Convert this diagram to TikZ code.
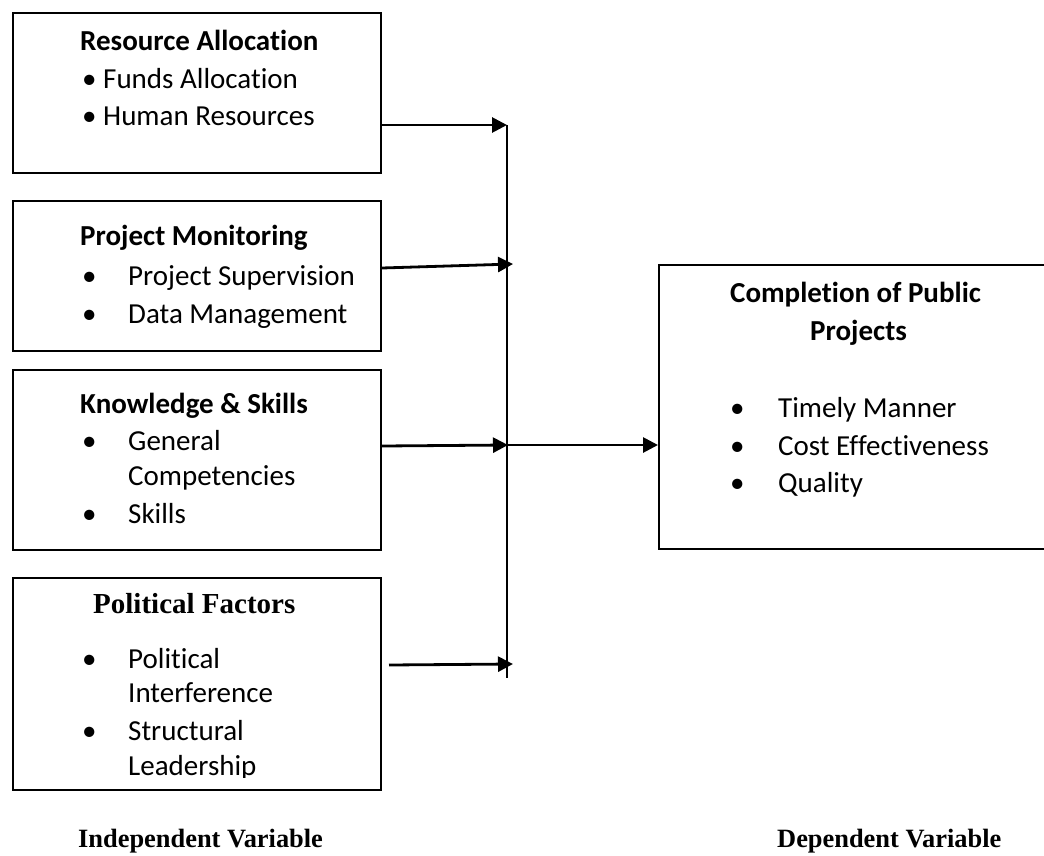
\documentclass[tikz,border=0pt]{standalone}
\usepackage{fontspec}
\setmainfont{Carlito}[Ligatures=CommonOff]
\newfontfamily\tnr{Liberation Serif}
\usetikzlibrary{arrows.meta}
\begin{document}
\begin{tikzpicture}[x=1pt,y=-1pt,
  box/.style={draw,line width=2pt,inner sep=0pt,anchor=north west},
  txt/.style={anchor=base west,inner sep=0pt,font=\fontsize{29}{37}\selectfont},
  hdr/.style={txt,font=\fontsize{29}{37}\selectfont\bfseries},
  thdr/.style={txt,font=\fontsize{29}{37}\selectfont\tnr\bfseries},
  lbl/.style={txt,font=\fontsize{26.4}{32}\selectfont\tnr\bfseries},
  link/.style={line width=2.8pt,-{Triangle[length=15pt,width=15pt]}},
  bar/.style={line width=1.2pt}]
\useasboundingbox (0,0) rectangle (1044,855);

% boxes of the independent variables
\node[box,minimum width=368pt,minimum height=160pt] (ra) at (12,12) {};
\node[box,minimum width=368pt,minimum height=150pt] (pm) at (12,200) {};
\node[box,minimum width=368pt,minimum height=180pt] (ks) at (12,369) {};
\node[box,minimum width=368pt,minimum height=212pt] (pf) at (12,577) {};
% box of the dependent variable
\node[box,minimum width=392pt,minimum height=284pt] (cp) at (658,264) {};

% Resource Allocation
\node[hdr] (raH) at (80,50) {Resource Allocation};
\node[txt] (raB1) at (82,88) {•};
\node[txt] (raT1) at (103,88) {Funds Allocation};
\node[txt] (raB2) at (82,125) {•};
\node[txt] (raT2) at (103,125) {Human Resources};

% Project Monitoring
\node[hdr] (pmH) at (80,245) {Project Monitoring};
\node[txt] (pmB1) at (82,285) {•};
\node[txt] (pmT1) at (128,285) {Project Supervision};
\node[txt] (pmB2) at (82,323) {•};
\node[txt] (pmT2) at (128,323) {Data Management};

% Knowledge & Skills
\node[hdr] (ksH) at (80,413) {Knowledge \& Skills};
\node[txt] (ksB1) at (82,450) {•};
\node[txt] (ksT1) at (128,450) {General};
\node[txt] (ksT1b) at (128,485) {Competencies};
\node[txt] (ksB2) at (82,523) {•};
\node[txt] (ksT2) at (128,523) {Skills};

% Political Factors
\node[thdr] (pfH) at (93,613) {Political Factors};
\node[txt] (pfB1) at (82,668) {•};
\node[txt] (pfT1) at (128,668) {Political};
\node[txt] (pfT1b) at (128,702) {Interference};
\node[txt] (pfB2) at (82,740) {•};
\node[txt] (pfT2) at (128,740) {Structural};
\begin{scope}
  \clip (20,740) rectangle (370,777);
  \node[txt] (pfT2b) at (128,775) {Leadership};
\end{scope}

% Completion of Public Projects
\node[hdr] (cpH) at (730,302) {Completion of Public};
\node[hdr] (cpH2) at (810,340) {Projects};
\node[txt] (cpB1) at (730,417) {•};
\node[txt] (cpT1) at (778,417) {Timely Manner};
\node[txt] (cpB2) at (730,455) {•};
\node[txt] (cpT2) at (778,455) {Cost Effectiveness};
\node[txt] (cpB3) at (730,492) {•};
\node[txt] (cpT3) at (778,492) {Quality};

% collecting bar and its inputs
\coordinate (vtop) at (507,125);
\coordinate (vbot) at (507,678);
\coordinate (in2) at (513,264);
\coordinate (vmid) at (508,445);
\coordinate (in4) at (513,664);
\draw[bar] (vtop) -- (vbot);

\draw[link] (ra.east |- vtop) -- (vtop);
\draw[link] ([yshift=8pt]pm.east) -- (in2);
\draw[link] ([yshift=14pt]ks.east) -- (vmid);
\draw[link] ([xshift=7pt,yshift=19pt]pf.east) -- (in4);
\draw[link] (vmid) -- (cp.west |- vmid);

% captions
\node[lbl] (iv) at (78,847) {Independent Variable};
\node[lbl] (dv) at (777,847) {Dependent Variable};
\end{tikzpicture}
\end{document}
